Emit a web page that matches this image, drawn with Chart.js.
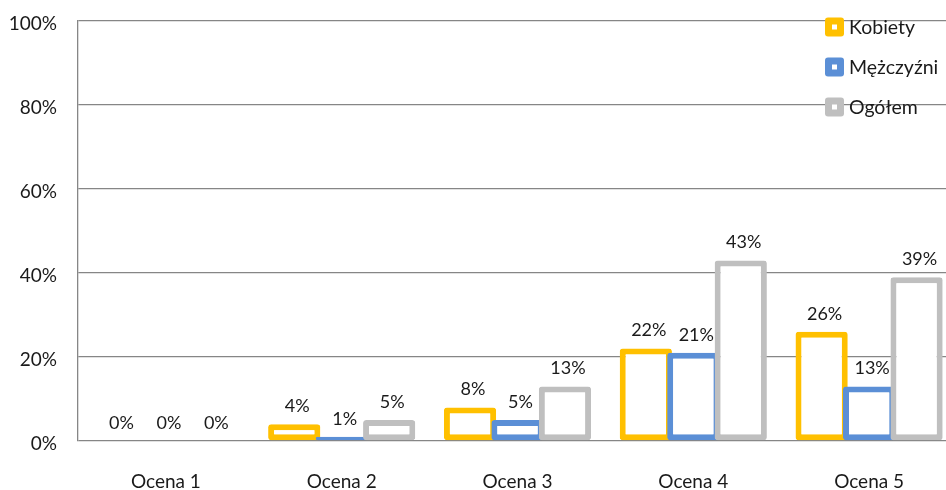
<!DOCTYPE html>
<html>
<head>
<meta charset="utf-8">
<script src="https://cdn.jsdelivr.net/npm/chart.js@4/dist/chart.umd.min.js"></script>
<style>
  html,body{margin:0;padding:0;background:#fff;overflow:hidden;}
  #wrap{width:946px;height:490px;position:relative;overflow:hidden;}
  #c{display:block;}
</style>
</head>
<body>
<div id="wrap"><canvas id="c" width="957" height="490"></canvas></div>
<script>
const categories = ['Ocena 1', 'Ocena 2', 'Ocena 3', 'Ocena 4', 'Ocena 5'];
const seriesNames = ['Kobiety', 'Mężczyźni', 'Ogółem'];
const kobiety = [0, 4, 8, 22, 26];
const mezczyzni = [0, 1, 5, 21, 13];
const ogolem = [0, 5, 13, 43, 39];
const yTicks = [0, 20, 40, 60, 80, 100];

const colors = ['#FFC000', '#5B8FD6', '#BFBFBF'];
const FONT = 'Lato, "Open Sans", sans-serif';

function mkDataset(label, data, color) {
  return {
    label, data,
    backgroundColor: '#ffffff',
    borderColor: color,
    borderWidth: 6,
    borderRadius: 3,
    borderSkipped: false,
    categoryPercentage: 0.81,
    barPercentage: 1.1
  };
}

const orderedDraw = {
  id: 'orderedDraw',
  beforeDatasetsDraw(chart) {
    const metas = chart.getSortedVisibleDatasetMetas();
    for (const m of metas) m.controller.draw();
    return false;
  }
};

const labelsAndLegend = {
  id: 'labelsAndLegend',
  afterDraw(chart) {
    const ctx = chart.ctx;
    ctx.save();
    // value labels
    ctx.font = '18px ' + FONT;
    ctx.fillStyle = '#1a1a1a';
    ctx.textAlign = 'center';
    ctx.textBaseline = 'middle';
    chart.data.datasets.forEach((ds, i) => {
      const meta = chart.getDatasetMeta(i);
      meta.data.forEach((el, j) => {
        ctx.fillText(ds.data[j] + '%', el.x + 3, el.y - 18);
      });
    });
    // legend
    const lx = 825, ys = [27, 67, 107];
    ctx.textAlign = 'left';
    ctx.font = '19.5px ' + FONT;
    chart.data.datasets.forEach((ds, i) => {
      const y = ys[i];
      ctx.fillStyle = ds.borderColor;
      ctx.beginPath();
      ctx.roundRect(lx, y - 9.5, 19, 19, 3);
      ctx.fill();
      ctx.fillStyle = '#ffffff';
      ctx.fillRect(lx + 7, y - 2.5, 5, 5);
      ctx.fillStyle = '#1a1a1a';
      ctx.fillText(ds.label, lx + 24, y + 1);
    });
    ctx.restore();
  }
};

new Chart(document.getElementById('c'), {
  type: 'bar',
  data: {
    labels: categories,
    datasets: [
      mkDataset(seriesNames[0], kobiety, colors[0]),
      mkDataset(seriesNames[1], mezczyzni, colors[1]),
      mkDataset(seriesNames[2], ogolem, colors[2])
    ]
  },
  options: {
    responsive: false,
    animation: false,
    layout: { padding: { top: 21, left: 0, right: 0, bottom: 0 } },
    plugins: { legend: { display: false }, tooltip: { enabled: false } },
    scales: {
      x: {
        grid: { display: false, drawTicks: false },
        border: { display: false },
        ticks: { font: { family: FONT, size: 19 }, color: '#1a1a1a', padding: 29, maxRotation: 0 },
        afterFit(s) { s.height = 49; s.paddingLeft = 0; s.paddingRight = 0; }
      },
      y: {
        min: 0, max: 100,
        afterBuildTicks(s) { s.ticks = yTicks.map(v => ({ value: v })); },
        grid: { color: '#868686', lineWidth: 1.3, drawTicks: false },
        border: { display: true, color: '#868686', width: 1.3 },
        ticks: {
          font: { family: FONT, size: 19 }, color: '#1a1a1a', padding: 21, labelOffset: 3,
          callback: v => v + '%'
        },
        afterFit(s) { s.width = 78; s.paddingTop = 0; s.paddingBottom = 0; }
      }
    }
  },
  plugins: [orderedDraw, labelsAndLegend]
});
</script>
</body>
</html>
